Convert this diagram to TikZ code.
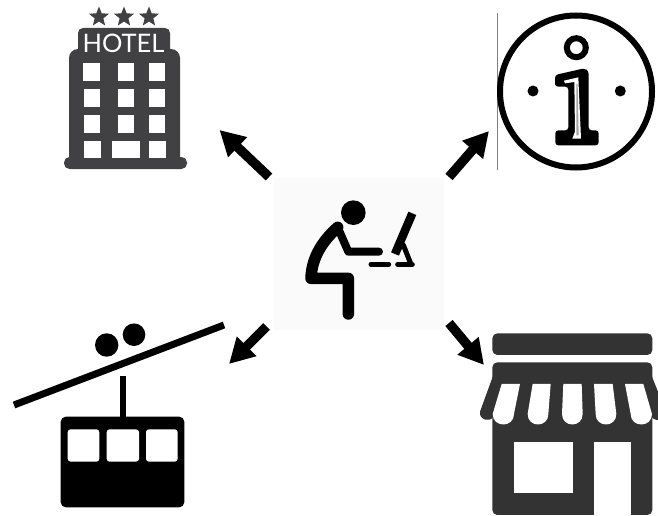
\documentclass[tikz,border=0pt]{standalone}
\usepackage{fontspec}
\setmainfont{Lato}
\usetikzlibrary{arrows.meta,shapes.geometric}
\definecolor{hotelc}{HTML}{414042}
\definecolor{shopc}{HTML}{333333}
\definecolor{panel}{HTML}{FAFAFA}
\tikzset{
  flow/.style={-{Triangle[length=25pt,width=26pt]},line width=9.5pt,black},
  win/.style={fill=white,draw=none},
  starmark/.style={star,star points=5,star point ratio=2.3,fill=hotelc,draw=none,minimum size=21pt,inner sep=0pt},
  limb/.style={draw=black,line cap=round,line join=round,fill=none},
  zoomed/.style={x=0.33333pt,y=-0.33333pt,shift={(#1)}}
}
\begin{document}
\begin{tikzpicture}[x=1pt,y=-1pt]
\useasboundingbox (0,0) rectangle (658,516);
\clip (0,0) rectangle (658,516);
\fill[white] (0,0) rectangle (658,516);
% centre panel
\node[fill=panel,draw=none,minimum width=170pt,minimum height=152pt,inner sep=0pt] (desk) at (359,254) {};
% person
\begin{scope}[zoomed={795,510}]
  \fill (265,128) circle (37);
  \draw[limb,line width=11.5pt] (218,172) .. controls (170,215) and (140,265) .. (138,325) -- (250,325) -- (250,432);
  \draw[limb,line width=8pt] (218,172) -- (250,245) -- (342,245);
  \draw[draw=black,line width=8.5pt] (442,130) -- (390,252);
  \draw[limb,line width=5pt] (415,225) -- (438,283);
  \draw[limb,line width=5pt] (318,283) -- (371,283);
  \draw[limb,line width=5pt] (398,283) -- (442,283);
\end{scope}
% hotel
\node[starmark] (s1) at (99,17) {};
\node[starmark] (s2) at (124,17) {};
\node[starmark] (s3) at (149,17) {};
\fill[hotelc,rounded corners=5pt] (78,28) rectangle (170,65);
\fill[hotelc,rounded corners=9pt] (69,49) rectangle (180,165);
\fill[hotelc,rounded corners=5.5pt] (64,157) rectangle (187,169);
\node[text=white,font=\fontsize{25.5}{25.5}\selectfont,inner sep=0pt] (hoteltext) at (123.5,43.5) {HOTEL};
\foreach \xa/\xb/\ya/\yb in {83/100/63/81,118/134/63/81,149/165/63/81,
  84/100/89/107,118/134/89/107,149/165/89/107,
  84/100/115/133,118/134/115/133,149/165/115/133,
  84/101/141/158,112/140/141/158,149/166/141/158}
  \fill[win] (\xa,\ya) rectangle (\xb,\yb);
% info
\draw[gray,line width=0.8pt] (497.5,13) -- (497.5,170);
\draw[black,line width=6pt] (576,91.5) circle (76);
\draw[black,line width=6pt] (576.3,47.7) circle (9.5);
\fill (533,91) circle (5.5);
\fill (620.3,91) circle (5.5);
\begin{scope}[zoomed={1635,180}]
  \fill[black,rounded corners=3pt] (30,45) -- (118,25) -- (131,33) -- (131,211) -- (161,211) -- (161,256) -- (31,256) -- (31,211) -- (70,211) -- (70,80) -- (30,80) -- cycle;
  \fill[white] (57,62) -- (100,52) -- (108,236) -- (82,236) -- (90,215) -- (88,66) -- (60,70) -- cycle;
  \fill[gray!70] (94,72) -- (98,72) -- (101,226) -- (94,226) -- cycle;
\end{scope}
% cable car
\draw[black,line width=7pt] (14,405) -- (224,325);
\fill (106.7,345) circle (11.7);
\fill (134,334.7) circle (11.3);
\fill (120,376) rectangle (126,420);
\fill[black,rounded corners=5pt] (60.7,416.7) rectangle (184.3,507.3);
\foreach \xa/\xb in {67.7/99.3,106.7/139,146/177.7}
  \fill[win,rounded corners=3pt] (\xa,429.3) rectangle (\xb,461.7);
% shop
\begin{scope}[zoomed={1320,930}]
  \fill[shopc,rounded corners=5pt] (157,70) rectangle (637,135);
  \fill[shopc,rounded corners=5pt] (157,157) rectangle (637,615);
  \fill[shopc] (160,195) -- (120,305) .. controls (116,330) and (150,338) .. (160,320) -- cycle;
  \fill[shopc] (634,195) -- (680,310) .. controls (680,330) and (645,338) .. (634,320) -- cycle;
  \foreach \tl/\tr/\bl/\br in {185/240/158/222, 278/332/263/325, 370/425/366/428, 462/518/467/529, 555/610/572/636}{
    \fill[white] (\tl,222) -- (\tr,222) -- (\br,312) .. controls (\br,354) and (\bl,354) .. (\bl,312) -- cycle;
  }
  \fill[white] (222,397) rectangle (398,550);
  \fill[white] (462,397) rectangle (572,620);
\end{scope}
% connectors
\coordinate (hoteltip) at (219.5,130);
\coordinate (infotip) at (489,131);
\coordinate (cartip) at (229,364);
\coordinate (shoptip) at (484,365);
\coordinate (hoteltail) at (269,177);
\coordinate (infotail) at (449,177);
\coordinate (cartail) at (266.5,326.5);
\coordinate (shoptail) at (449,323);
\draw[flow] (hoteltail) -- (hoteltip);
\draw[flow] (infotail) -- (infotip);
\draw[flow] (cartail) -- (cartip);
\draw[flow] (shoptail) -- (shoptip);
\end{tikzpicture}
\end{document}
